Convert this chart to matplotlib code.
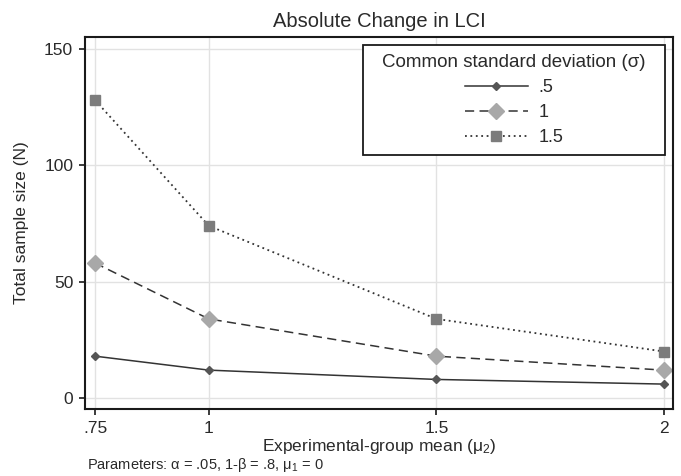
import matplotlib.pyplot as plt
from matplotlib.patches import Rectangle
from matplotlib.ticker import FixedLocator

plt.rcParams['font.family'] = ['Liberation Sans', 'DejaVu Sans']
plt.rcParams['mathtext.fontset'] = 'custom'
plt.rcParams['mathtext.rm'] = 'Liberation Sans'
plt.rcParams['mathtext.it'] = 'Liberation Sans:italic'

# experimental-group means and total sample sizes per common SD
means = [0.75, 1, 1.5, 2]
x_labels = ['.75', '1', '1.5', '2']
n_sd05 = [18, 12, 8, 6]
n_sd1 = [58, 34, 18, 12]
n_sd15 = [128, 74, 34, 20]
y_ticks = [0, 50, 100, 150]

W, H = 681, 476
fig = plt.figure(figsize=(W / 100, H / 100), dpi=100)
# plot region in pixels: x 85..673, y 37..409
ax = fig.add_axes([85 / W, 1 - 409 / H, (673 - 85) / W, (409 - 37) / H])

txt = '#2a2a2a'

ax.plot(means, n_sd05, color='#333333', linestyle='-', linewidth=1.1,
        marker='D', markersize=4.5, markerfacecolor='#555555', markeredgecolor='#555555', label='.5')
ax.plot(means, n_sd1, color='#333333', linestyle=(0, (6, 3.5)), linewidth=1.1,
        marker='D', markersize=8, markerfacecolor='#a8a8a8', markeredgecolor='#a8a8a8', label='1')
ax.plot(means, n_sd15, color='#333333', linestyle=(0, (1, 2)), linewidth=1.3,
        marker='s', markersize=7.5, markerfacecolor='#7c7c7c', markeredgecolor='#7c7c7c', label='1.5')

ax.set_xlim(0.728, 2.02)
ax.set_ylim(-4.7, 155.1)
ax.xaxis.set_major_locator(FixedLocator(means))
ax.set_xticklabels(x_labels)
ax.set_yticks(y_ticks)
ax.grid(True, color='#e2e2e2', linewidth=1.0)
ax.set_axisbelow(True)
ax.tick_params(direction='out', length=4.5, width=1.2, labelsize=12.5, color='#1a1a1a',
               labelcolor=txt, pad=4)
for s in ax.spines.values():
    s.set_linewidth(1.5)
    s.set_color('#1a1a1a')

ax.set_title('Absolute Change in LCI', fontsize=14.5, color=txt, pad=7)
ax.set_xlabel('Experimental-group mean (μ$_2$)', fontsize=12.5, color=txt)
ax.xaxis.set_label_coords(0.5, (409 - 446) / (409 - 37))
ax.xaxis.label.set_va('center')
ax.set_ylabel('Total sample size (N)', fontsize=12.5, color=txt)
ax.yaxis.set_label_coords((22 - 85) / (673 - 85), 0.5)
ax.yaxis.label.set_va('center')

# legend box (Stata style), drawn as its own rectangle under the legend
bx0, bx1, by0, by1 = 363, 665, 45, 155
box = Rectangle((bx0 / W, 1 - by1 / H), (bx1 - bx0) / W, (by1 - by0) / H,
                transform=fig.transFigure, facecolor='white',
                edgecolor='#1a1a1a', linewidth=1.3, zorder=4, clip_on=False)
ax.add_patch(box)
leg = ax.legend(title='Common standard deviation (σ)', loc='center',
                bbox_to_anchor=((bx0 + bx1) / 2 / W, 1 - (by0 + by1) / 2 / H),
                bbox_transform=fig.transFigure, fontsize=13, title_fontsize=13.5,
                frameon=False, handlelength=3.5, handletextpad=0.6,
                borderpad=0.2, labelspacing=0.45)
leg.set_zorder(5)
leg._legend_box.align = 'center'
for t in leg.get_texts():
    t.set_color(txt)
leg.get_title().set_color(txt)

fig.text(87 / W, 1 - 465 / H, 'Parameters: α = .05, 1-β = .8, μ$_1$ = 0',
         fontsize=10.5, color=txt, va='center', ha='left')

fig.savefig('out.png', dpi=100)
